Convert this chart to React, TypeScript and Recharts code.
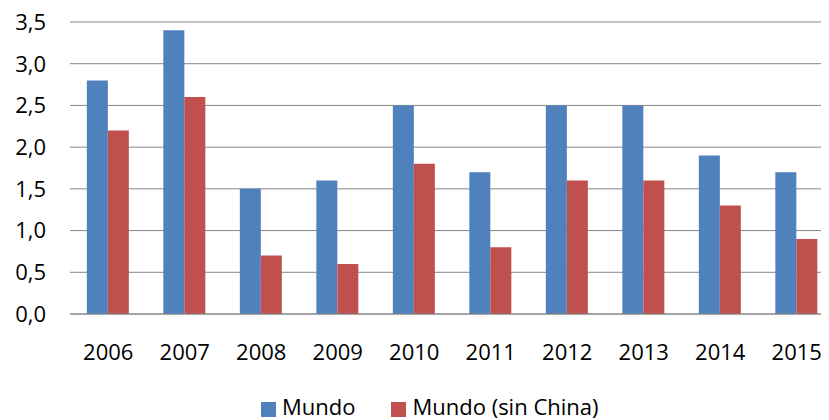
import { BarChart, Bar, XAxis, YAxis, CartesianGrid, Legend } from "recharts";

const years = ["2006", "2007", "2008", "2009", "2010", "2011", "2012", "2013", "2014", "2015"];
const mundo = [2.8, 3.4, 1.5, 1.6, 2.5, 1.7, 2.5, 2.5, 1.9, 1.7];
const sinChina = [2.2, 2.6, 0.7, 0.6, 1.8, 0.8, 1.6, 1.6, 1.3, 0.9];
const yTicks = [0, 0.5, 1, 1.5, 2, 2.5, 3, 3.5];
const boundaryTicks = [0, 1, 2, 3, 4, 5, 6, 7, 8, 9, 10];

const data = years.map((year, i) => ({
    year,
    mundo: mundo[i],
    sinChina: sinChina[i],
}));

const font = "'Open Sans', Lato, sans-serif";
const gray = "#868686";

const App = () => {
    return (
        <div style={{ width: 821, height: 420, marginTop: -8, overflow: "hidden", fontFamily: font }}>
            <BarChart
                width={840}
                height={420}
                data={data}
                margin={{ top: 22, right: 13, bottom: 2, left: 0 }}
                barCategoryGap="22%"
                barGap={0}
            >
                <CartesianGrid vertical={false} stroke={gray} strokeWidth={1} />
                {/* tick marks between categories, drawn with a numeric axis next to the plot */}
                <XAxis
                    type="number"
                    domain={[0, 10]}
                    ticks={boundaryTicks}
                    tick={false}
                    height={8}
                    stroke={gray}
                    tickSize={6}
                    allowDataOverflow
                />
                <XAxis
                    xAxisId="year"
                    dataKey="year"
                    axisLine={false}
                    tickLine={false}
                    tickSize={0}
                    tickMargin={22}
                    height={72}
                    interval={0}
                    tick={{ fill: "#000", fontSize: 22, fontFamily: font }}
                />
                <YAxis
                    domain={[0, 3.5]}
                    ticks={yTicks}
                    width={62}
                    axisLine={false}
                    tickLine={false}
                    tickMargin={18}
                    tickFormatter={(v: number) => v.toFixed(1).replace(".", ",")}
                    tick={{ fill: "#000", fontSize: 22, fontFamily: font }}
                />
                <Legend
                    verticalAlign="bottom"
                    align="left"
                    iconType="square"
                    iconSize={15}
                    wrapperStyle={{ left: 253, height: 24, lineHeight: "24px", fontSize: 22, color: "#000" }}
                    formatter={(value: string) => (
                        <span style={{ color: "#000", paddingLeft: 2, paddingRight: 26 }}>{value}</span>
                    )}
                />
                <Bar xAxisId="year" dataKey="mundo" name="Mundo" fill="#4F81BD" isAnimationActive={false} />
                <Bar xAxisId="year" dataKey="sinChina" name="Mundo (sin China)" fill="#C0504D" isAnimationActive={false} />
            </BarChart>
        </div>
    );
};

export default App;
